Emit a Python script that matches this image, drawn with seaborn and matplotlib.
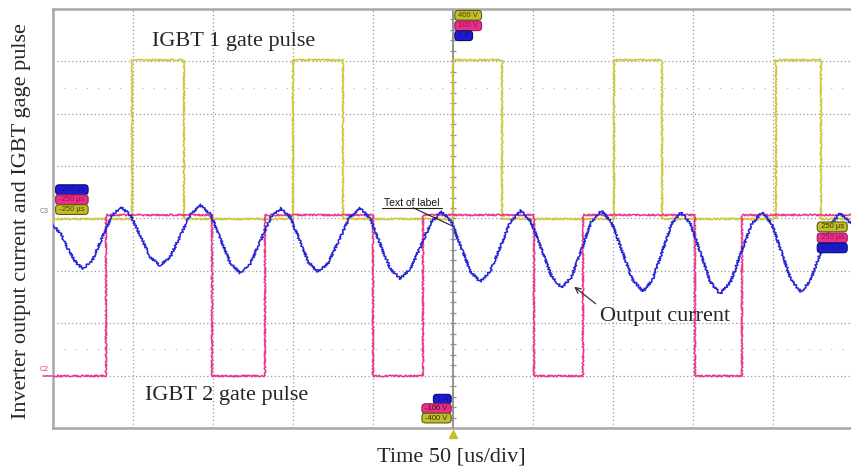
import matplotlib
matplotlib.use("Agg")
import matplotlib.pyplot as plt
import numpy as np
import pandas as pd
import seaborn as sns

# Oscilloscope capture: 50 us/div over 10 divisions, 8 vertical divisions
time_ticks = list(range(0, 501, 50))
div_ticks = list(range(-4, 5))

# IGBT 1 gate pulse (channel 3): switching instants in us, levels in divisions
igbt1_on = [49.4, 150.0, 250.0, 350.6, 451.9]
igbt1_off = [81.9, 181.3, 280.6, 380.6, 480.0]
igbt1_low, igbt1_high = -0.01, 3.02

# IGBT 2 gate pulse (channel 2): intervals where the gate is pulled low
igbt2_low_start = [0.0, 99.4, 200.0, 300.6, 401.3]
igbt2_low_end = [33.1, 132.5, 231.3, 331.3, 430.6]
igbt2_low, igbt2_high = -3.0, 0.07

# Inverter output current (blue trace), divisions
current_t = [0, 5, 10, 14.5, 18.8, 24.7, 30.7, 36.6, 42.5, 48.6, 54.7, 60.8,
             66.9, 73.3, 79.7, 86.1, 92.5, 98.6, 104.7, 110.8, 116.9, 123.3,
             129.7, 136.1, 142.5, 148.3, 154.1, 159.8, 165.6, 172.2, 178.8,
             185.3, 191.9, 198.2, 204.4, 210.7, 216.9, 223.5, 230.0, 236.6,
             243.1, 249.0, 255.0, 260.9, 266.9, 273.3, 279.7, 286.1, 292.5,
             298.9, 305.3, 311.7, 318.1, 324.2, 330.3, 336.4, 342.5, 349.1,
             355.7, 362.2, 368.8, 374.7, 380.7, 386.6, 392.5, 398.6, 404.7,
             410.8, 416.9, 423.5, 430.0, 436.6, 443.1, 449.2, 455.3, 461.4,
             467.5, 473.6, 479.7, 485.8, 491.9, 496.0, 500.0]
current_v = [-0.12, -0.30, -0.62, -0.85, -0.96, -0.79, -0.37, 0.05, 0.22,
             0.06, -0.34, -0.74, -0.90, -0.73, -0.32, 0.09, 0.26, 0.07, -0.39,
             -0.85, -1.04, -0.86, -0.42, 0.02, 0.20, 0.02, -0.41, -0.84, -1.02,
             -0.84, -0.41, 0.02, 0.20, 0.00, -0.48, -0.95, -1.15, -0.96, -0.51,
             -0.06, 0.13, -0.07, -0.54, -1.01, -1.21, -1.01, -0.53, -0.05, 0.15,
             -0.07, -0.59, -1.11, -1.33, -1.11, -0.59, -0.07, 0.15, -0.07,
             -0.62, -1.17, -1.39, -1.17, -0.64, -0.10, 0.12, -0.11, -0.66,
             -1.21, -1.44, -1.21, -0.66, -0.11, 0.12, -0.10, -0.64, -1.18,
             -1.40, -1.18, -0.65, -0.12, 0.10, 0.00, -0.15]

YELLOW = "#CBC83E"
PINK = "#E8358C"
BLUE = "#2323D6"
GRID = "#9a9a9a"


def pulse_high(on, off, lo, hi):
    t, v = [0.0], [lo]
    for a, b in zip(on, off):
        t += [a, a, b, b]
        v += [lo, hi, hi, lo]
    t.append(500.0)
    v.append(lo)
    return pd.DataFrame({"t": t, "v": v})


def pulse_low(start, end, lo, hi):
    t, v = [], []
    for a, b in zip(start, end):
        if a <= 0:
            t += [a, b, b]
            v += [lo, lo, hi]
        else:
            t += [a, a, b, b]
            v += [hi, lo, lo, hi]
    t.append(500.0)
    v.append(hi)
    return pd.DataFrame({"t": t, "v": v})


sns.set_style("white")
plt.rcParams["font.family"] = ["Liberation Serif", "DejaVu Serif"]

fig = plt.figure(figsize=(8.51, 4.73), dpi=100)
W, H = 851, 473
ax = fig.add_axes([53 / W, (H - 428) / H, 800 / W, 419 / H])
ax.set_xlim(0, 500)
ax.set_ylim(-4, 4)

# graticule
ax.set_xticks(time_ticks)
ax.set_yticks(div_ticks)
ax.tick_params(length=0, labelbottom=False, labelleft=False)
ax.grid(True, color=GRID, lw=0.9, ls=(0, (1, 2)))
for s in ["top", "bottom", "left", "right"]:
    ax.spines[s].set_color("#a8a8a8")
    ax.spines[s].set_linewidth(1.8)
for yl in (2.5, -2.5):
    ax.axhline(yl, color="#b5b5b5", lw=0.8, ls=(0, (1, 9)), zorder=1)
ax.axvline(250, color="#8e8e8e", lw=1.3, zorder=1)
minor = np.arange(-4, 4.01, 0.2)
ax.plot(np.full(minor.shape, 250.0), minor, ls="none", marker="_",
        ms=5, mew=0.9, color="#8e8e8e", zorder=1)

# traces
yellow = pulse_high(igbt1_on, igbt1_off, igbt1_low, igbt1_high)
pink = pulse_low(igbt2_low_start, igbt2_low_end, igbt2_low, igbt2_high)
current = pd.DataFrame({"t": current_t, "v": current_v})

for df, col, jitter in ((yellow, YELLOW, 0.9), (pink, PINK, 0.9),
                        (current, BLUE, 1.2)):
    sns.lineplot(data=df, x="t", y="v", sort=False, estimator=None,
                 color=col, lw=1.1, ax=ax, zorder=3)
    ax.lines[-1].set_sketch_params(scale=jitter, length=2.5, randomness=2)
ax.set_xlabel("")
ax.set_ylabel("")

# channel badges
def badge(x, y, text, fc, ec, tc="#222222", ha="center"):
    ax.text(x, y, text, fontsize=5.5, family="Liberation Sans", color=tc,
            ha=ha, va="center", zorder=6, clip_on=False,
            bbox=dict(boxstyle="round,pad=0.18,rounding_size=0.45",
                      fc=fc, ec=ec, lw=0.8))

Y_FC, Y_EC = "#c2be2a", "#5a5a10"
P_FC, P_EC = "#e8308a", "#902050"
B_FC, B_EC = "#1d1dd0", "#0a0a70"

badge(2.5, 0.55, " -250 µs ", B_FC, B_EC, "#1010a0", ha="left")
badge(2.5, 0.36, " -250 µs ", P_FC, P_EC, "#a01050", ha="left")
badge(2.5, 0.17, " -250 µs ", Y_FC, Y_EC, "#404010", ha="left")
badge(252, 3.88, " 400 V ", Y_FC, Y_EC, "#404010", ha="left")
badge(252, 3.68, " 100 V ", P_FC, P_EC, "#a01050", ha="left")
badge(252, 3.49, " 1 A ", B_FC, B_EC, "#1010a0", ha="left")
badge(248, -3.45, " 1 A ", B_FC, B_EC, "#1010a0", ha="right")
badge(248, -3.63, " -100 V ", P_FC, P_EC, "#401020", ha="right")
badge(248, -3.81, " -400 V ", Y_FC, Y_EC, "#303010", ha="right")
badge(478.5, -0.16, " 250 µs ", Y_FC, Y_EC, "#303010", ha="left")
badge(478.5, -0.37, " 250 µs ", P_FC, P_EC, "#a01050", ha="left")
badge(478.5, -0.56, " 250 µs ", B_FC, B_EC, "#1010a0", ha="left")

ax.text(-3.0, 0.14, "C3", fontsize=5, family="Liberation Sans",
        color="#777777", ha="right", va="center", clip_on=False)
ax.text(-3.0, -2.88, "C2", fontsize=5, family="Liberation Sans",
        color=PINK, ha="right", va="center", clip_on=False)
ax.plot([-6.5, 0], [-3.0, -3.0], color=PINK, lw=1.1, clip_on=False)
ax.plot([250], [-4.11], marker="^", ms=6, color="#c8c020",
        clip_on=False, zorder=6)

# annotations
ax.text(62, 3.38, "IGBT 1 gate pulse", fontsize=16, ha="left", va="center")
ax.text(57.5, -3.37, "IGBT 2 gate pulse", fontsize=16, ha="left", va="center")
ax.text(342, -1.88, "Output current", fontsize=16, ha="left", va="center")
ax.annotate("", xy=(324.4, -1.27), xytext=(340.5, -1.66),
            arrowprops=dict(arrowstyle="->", color="#333333", lw=0.9))
ax.text(224.4, 0.29, "Text of label", fontsize=7.5, family="Liberation Sans",
        ha="center", va="center", color="#111111", zorder=7)
ax.plot([205.6, 243.1], [0.205, 0.205], color="#222222", lw=0.8, zorder=7)
ax.plot([225.0, 249.4], [0.205, -0.14], color="#222222", lw=0.8, zorder=7)

fig.text(22 / W, (H - 221) / H, "Inverter output current and IGBT gage pulse",
         rotation=90, fontsize=16, ha="center", va="center")
fig.text(451 / W, (H - 457) / H, "Time 50 [us/div]", fontsize=16,
         ha="center", va="center")

fig.savefig("out.png", dpi=100, facecolor="white")
